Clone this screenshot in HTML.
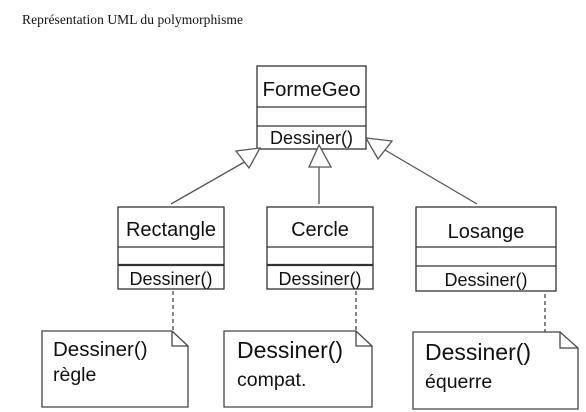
<!DOCTYPE html>
<html><head><meta charset="utf-8"><style>
html,body{margin:0;padding:0;background:#fff;width:586px;height:412px;overflow:hidden}
text{font-family:"Liberation Sans",sans-serif;fill:#111}
</style></head><body>
<svg width="586" height="412" xmlns="http://www.w3.org/2000/svg">
<text x="22" y="24" style="font-family:'Liberation Serif',serif;font-size:13.5px" textLength="221">Représentation UML du polymorphisme</text>
<g fill="#fff" stroke="#333" stroke-width="1.3">
<rect x="257" y="66" width="109" height="83"/>
<line x1="257" y1="107" x2="366" y2="107"/><line x1="257" y1="126" x2="366" y2="126"/>
<rect x="118" y="207" width="106" height="82"/>
<line x1="118" y1="247" x2="224" y2="247"/><line x1="118" y1="265" x2="224" y2="265" stroke-width="2.2"/>
<rect x="267" y="207" width="106" height="82"/>
<line x1="267" y1="247" x2="373" y2="247"/><line x1="267" y1="265" x2="373" y2="265" stroke-width="2.2"/>
<rect x="416" y="207" width="140" height="84"/>
<line x1="416" y1="247" x2="556" y2="247"/><line x1="416" y1="266" x2="556" y2="266"/>
</g>
<g stroke="#555" stroke-width="1.3" fill="#fff">
<line x1="171" y1="204" x2="248" y2="160"/>
<polygon points="260,148 236,151 249,168"/>
<line x1="319" y1="204" x2="319" y2="167"/>
<polygon points="319,145 309,167 331,167"/>
<line x1="477" y1="204" x2="385" y2="150"/>
<polygon points="366,138 392,141 378,159"/>
</g>
<g stroke="#444" stroke-width="1.3" stroke-dasharray="4,3">
<line x1="173" y1="291" x2="173" y2="331"/>
<line x1="356" y1="291" x2="356" y2="331"/>
<line x1="545" y1="294" x2="545" y2="332"/>
</g>
<g fill="#fff" stroke="#444" stroke-width="1.3">
<path d="M42,331 H172 L188,346 V407 H42 Z M172,331 V346 H188"/>
<path d="M224,331 H356 L372,346 V407 H224 Z M356,331 V346 H372"/>
<path d="M413,332 H560 L578,348 V409 H413 Z M560,332 V348 H578"/>
</g>
<g text-anchor="middle">
<text x="311.5" y="96" font-size="20.5">FormeGeo</text>
<text x="311.5" y="144" font-size="18">Dessiner()</text>
<text x="171" y="236" font-size="20">Rectangle</text>
<text x="320" y="236" font-size="20">Cercle</text>
<text x="486" y="238" font-size="20">Losange</text>
<text x="171" y="285" font-size="18">Dessiner()</text>
<text x="320" y="285" font-size="18">Dessiner()</text>
<text x="486" y="286" font-size="18">Dessiner()</text>
</g>
<text x="53" y="356" font-size="20.5">Dessiner()</text>
<text x="53" y="381" font-size="19.5">règle</text>
<text x="237" y="358" font-size="23">Dessiner()</text>
<text x="237" y="386" font-size="19.5">compat.</text>
<text x="425" y="360" font-size="23">Dessiner()</text>
<text x="425" y="388" font-size="19.5">équerre</text>
</svg>
</body></html>
